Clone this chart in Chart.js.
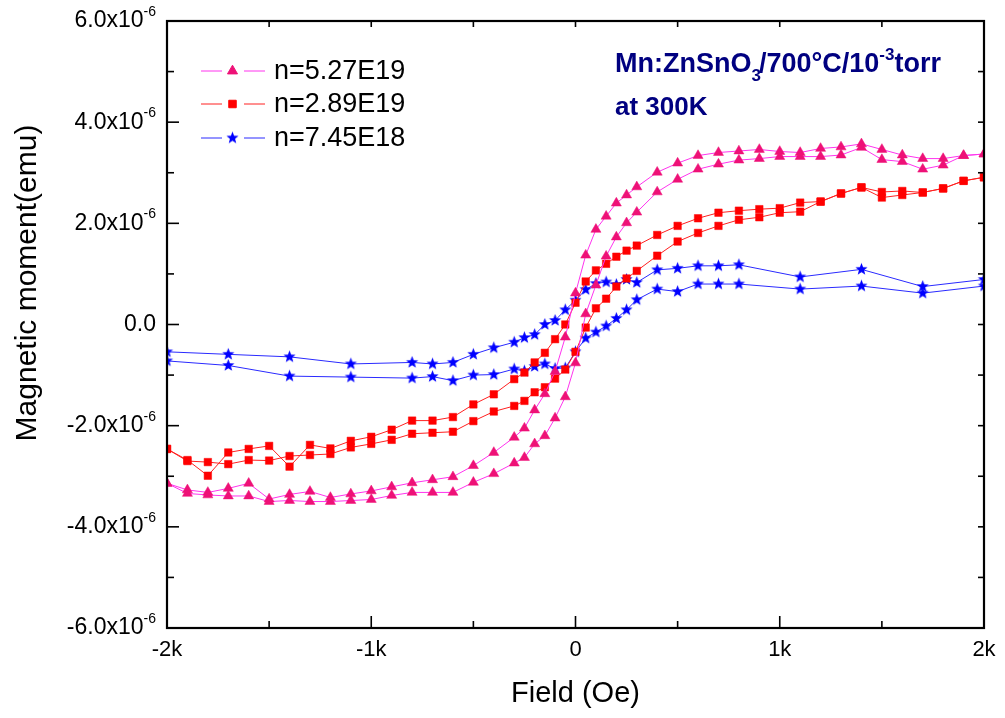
<!DOCTYPE html>
<html><head><meta charset="utf-8">
<script src="https://cdn.jsdelivr.net/npm/chart.js@4.4.1/dist/chart.umd.min.js"></script>
<style>html,body{margin:0;padding:0;background:#fff;} canvas{display:block;}</style>
</head><body>
<canvas id="c" width="1005" height="718"></canvas>
<script>
// ---------- DATA (field in Oe, moment in units of 1e-6 emu) ----------
const fieldDown = [2000,1900,1800,1700,1600,1500,1400,1300,1200,1100,1000,900,800,700,600,500,400,300,250,200,150,100,50,0,-50,-100,-150,-200,-250,-300,-400,-500,-600,-700,-800,-900,-1000,-1100,-1200,-1300,-1400,-1500,-1600,-1700,-1800,-1900,-2000];
const fieldUp = [-2000,-1900,-1800,-1700,-1600,-1500,-1400,-1300,-1200,-1100,-1000,-900,-800,-700,-600,-500,-400,-300,-250,-200,-150,-100,-50,0,50,100,150,200,250,300,400,500,600,700,800,900,1000,1100,1200,1300,1400,1500,1600,1700,1800,1900,2000];
const fieldDownBlue = [2000,1700,1400,1100,800,700,600,500,400,300,250,200,150,100,50,0,-50,-100,-150,-200,-250,-300,-400,-500,-600,-700,-800,-1100,-1400,-1700,-2000];
const fieldUpBlue = [-2000,-1700,-1400,-1100,-800,-700,-600,-500,-400,-300,-250,-200,-150,-100,-50,0,50,100,150,200,250,300,400,500,600,700,800,1100,1400,1700,2000];

const n527Down = [3.37,3.34,3.28,3.28,3.35,3.46,3.57,3.51,3.48,3.40,3.42,3.46,3.43,3.40,3.34,3.19,3.01,2.72,2.56,2.40,2.14,1.88,1.37,0.62,-0.25,-0.93,-1.37,-1.69,-2.05,-2.23,-2.53,-2.79,-3.01,-3.07,-3.13,-3.21,-3.29,-3.35,-3.42,-3.30,-3.36,-3.45,-3.14,-3.24,-3.32,-3.27,-3.14];
const n527Up = [-3.14,-3.34,-3.37,-3.39,-3.39,-3.50,-3.48,-3.50,-3.50,-3.48,-3.46,-3.38,-3.32,-3.32,-3.32,-3.12,-2.95,-2.74,-2.63,-2.36,-2.20,-1.85,-1.43,-0.76,0.21,0.78,1.35,1.73,2.01,2.22,2.62,2.87,3.07,3.17,3.25,3.28,3.32,3.32,3.32,3.35,3.50,3.26,3.22,3.07,3.15,3.34,3.37];

const n289Down = [2.91,2.84,2.69,2.61,2.64,2.62,2.71,2.59,2.43,2.41,2.30,2.28,2.25,2.21,2.10,1.95,1.77,1.56,1.46,1.34,1.20,1.07,0.85,0.43,0.00,-0.29,-0.56,-0.75,-0.95,-1.08,-1.38,-1.58,-1.83,-1.90,-1.90,-2.08,-2.22,-2.30,-2.45,-2.38,-2.81,-2.40,-2.46,-2.53,-2.99,-2.68,-2.46];
const n289Up = [-2.46,-2.70,-2.72,-2.76,-2.68,-2.69,-2.60,-2.58,-2.56,-2.43,-2.36,-2.28,-2.16,-2.14,-2.12,-1.91,-1.72,-1.61,-1.51,-1.34,-1.24,-1.07,-0.89,-0.54,-0.06,0.32,0.51,0.75,0.91,1.06,1.36,1.64,1.81,1.95,2.07,2.12,2.21,2.23,2.43,2.59,2.71,2.51,2.56,2.61,2.69,2.84,2.91];

const n745Down = [0.89,0.75,1.09,0.94,1.18,1.16,1.16,1.11,1.08,0.83,0.89,0.79,0.84,0.81,0.69,0.48,0.29,0.08,0.00,-0.20,-0.26,-0.35,-0.46,-0.59,-0.75,-0.78,-0.75,-0.78,-0.64,-0.59,-0.54];
const n745Up = [-0.72,-0.81,-1.02,-1.04,-1.06,-1.03,-1.11,-1.00,-0.99,-0.88,-0.92,-0.83,-0.78,-0.87,-0.86,-0.54,-0.27,-0.15,-0.03,0.12,0.29,0.49,0.70,0.65,0.80,0.80,0.80,0.70,0.76,0.62,0.76];

const seriesLabels = ['n=5.27E19','n=2.89E19','n=7.45E18'];
const xTickValues = [-2000,-1000,0,1000,2000];
const xTickLabels = ['-2k','-1k','0','1k','2k'];
const yTickValues = [-6,-4,-2,0,2,4,6];
const yTickLabels = ['-6.0x10','-4.0x10','-2.0x10','0.0','2.0x10','4.0x10','6.0x10'];
const yTickExp = '-6';

// ---------- helpers ----------
function loop(xd, yd, xu, yu){
  const a = xd.map((x,i)=>({x:x, y:yd[i]}));
  const b = xu.map((x,i)=>({x:x, y:yu[i]}));
  return a.concat(b);
}
function makeStar(color, R){
  const s = Math.ceil(R*2)+2;
  const c = document.createElement('canvas'); c.width = s; c.height = s;
  const g = c.getContext('2d');
  g.fillStyle = color; g.beginPath();
  for(let i=0;i<10;i++){
    const r = i%2===0 ? R : R*0.42;
    const ang = -Math.PI/2 + i*Math.PI/5;
    const px = s/2 + r*Math.cos(ang), py = s/2 + r*Math.sin(ang);
    if(i===0) g.moveTo(px,py); else g.lineTo(px,py);
  }
  g.closePath(); g.fill();
  return c;
}
const starImg = makeStar('#0000ff', 6.4);

const COL = {
  mag: {line:'#ff33ee', pt:'#ee1177'},
  red: {line:'#ff2020', pt:'#ff0000'},
  blu: {line:'#2a2aff', pt:'#0000ff'}
};
const FONT = '"Liberation Sans", Arial, sans-serif';

const datasets = [
  {label:seriesLabels[0], data:loop(fieldDown,n527Down,fieldUp,n527Up), borderColor:COL.mag.line, borderWidth:1,
   pointStyle:'triangle', pointRadius:5.8, pointBackgroundColor:COL.mag.pt, pointBorderColor:COL.mag.pt, pointBorderWidth:0.5},
  {label:seriesLabels[1], data:loop(fieldDown,n289Down,fieldUp,n289Up), borderColor:COL.red.line, borderWidth:1,
   pointStyle:'rect', pointRadius:5.3, pointBackgroundColor:COL.red.pt, pointBorderColor:COL.red.pt, pointBorderWidth:0.5},
  {label:seriesLabels[2], data:loop(fieldDownBlue,n745Down,fieldUpBlue,n745Up), borderColor:COL.blu.line, borderWidth:1,
   pointStyle:starImg, pointRadius:6}
];

const decor = {
  id:'decor',
  afterDatasetsDraw(chart){
    const {ctx, chartArea:a, scales:{x,y}} = chart;
    ctx.save();
    ctx.strokeStyle = '#000';
    ctx.lineWidth = 1.6;
    const L = (x1,y1,x2,y2)=>{ctx.beginPath();ctx.moveTo(x1,y1);ctx.lineTo(x2,y2);ctx.stroke();};
    [-2000,-1500,-1000,-500,0,500,1000,1500,2000].forEach(v=>{
      const px = x.getPixelForValue(v);
      const major = v % 1000 === 0;
      L(px, a.bottom, px, a.bottom - (major?12:7));
      L(px, a.top, px, a.top + 6);
    });
    [-6,-5,-4,-3,-2,-1,0,1,2,3,4,5,6].forEach(v=>{
      const py = y.getPixelForValue(v);
      const major = v % 2 === 0;
      L(a.left, py, a.left + (major?12:7), py);
      L(a.right, py, a.right - 6, py);
    });
    ctx.lineWidth = 2.2;
    ctx.strokeRect(a.left, a.top, a.right-a.left, a.bottom-a.top);
    ctx.restore();
  },
  afterDraw(chart){
    const {ctx, chartArea:a, scales:{x,y}} = chart;
    ctx.save();
    ctx.fillStyle = '#000';
    // x tick labels
    ctx.font = '22px ' + FONT; ctx.textAlign='center'; ctx.textBaseline='middle';
    xTickValues.forEach((v,i)=>{ ctx.fillText(xTickLabels[i], x.getPixelForValue(v), a.bottom + 22); });
    // y tick labels with superscript
    yTickValues.forEach((v,i)=>{
      const py = y.getPixelForValue(v);
      const right = a.left - 11;
      ctx.textAlign='left'; ctx.textBaseline='middle';
      if(v===0){
        ctx.font = '23px ' + FONT;
        const w = ctx.measureText(yTickLabels[i]).width;
        ctx.fillText(yTickLabels[i], right - w, py);
      } else {
        ctx.font = '14px ' + FONT;
        const ws = ctx.measureText(yTickExp).width;
        ctx.font = '23px ' + FONT;
        const w = ctx.measureText(yTickLabels[i]).width;
        ctx.fillText(yTickLabels[i], right - ws - w, py);
        ctx.font = '14px ' + FONT;
        ctx.fillText(yTickExp, right - ws, py - 9);
      }
    });
    // axis titles
    ctx.font = '29px ' + FONT; ctx.textAlign='center'; ctx.textBaseline='middle';
    ctx.fillText('Field (Oe)', x.getPixelForValue(0), a.bottom + 66);
    ctx.save();
    ctx.font = '30px ' + FONT;
    ctx.translate(28, 283); ctx.rotate(-Math.PI/2);
    ctx.fillText('Magnetic moment(emu)', 0, 0);
    ctx.restore();

    // legend
    const rows = [71, 104, 138];
    const styles = [['triangle',5.8,COL.mag], ['rect',5.3,COL.red], [starImg,6,COL.blu]];
    rows.forEach((ry,i)=>{
      const st = styles[i];
      ctx.strokeStyle = st[2].line; ctx.lineWidth = 1;
      ctx.beginPath(); ctx.moveTo(201, ry); ctx.lineTo(222, ry); ctx.moveTo(244, ry); ctx.lineTo(265, ry); ctx.stroke();
      ctx.fillStyle = st[2].pt; ctx.strokeStyle = st[2].pt;
      Chart.helpers.drawPoint(ctx, {pointStyle: st[0], radius: st[1], borderWidth: 0.5}, 232.5, ry);
      ctx.fillStyle = '#000'; ctx.font = '27px ' + FONT; ctx.textAlign='left'; ctx.textBaseline='middle';
      ctx.fillText(seriesLabels[i], 274, ry + 1);
    });

    // annotation
    ctx.fillStyle = '#000080'; ctx.textAlign='left'; ctx.textBaseline='alphabetic';
    let cx = 615; const base = 72;
    const seg = (t, size, dy)=>{ ctx.font = 'bold ' + size + 'px ' + FONT; ctx.fillText(t, cx, base + dy); cx += ctx.measureText(t).width; };
    seg('Mn:ZnSnO', 27, 0);
    seg('3', 17, 9); cx -= 2;
    seg('/700\u00B0C/10', 27, 0);
    seg('-3', 17, -12);
    seg('torr', 27, 0);
    ctx.font = 'bold 26px ' + FONT;
    ctx.fillText('at 300K', 615, 115);
    ctx.restore();
  }
};

new Chart(document.getElementById('c'), {
  type: 'line',
  data: { datasets: datasets },
  options: {
    responsive: false, animation: false,
    layout: { padding: { left: 167, right: 21, top: 21, bottom: 90 } },
    plugins: { legend: { display: false }, tooltip: { enabled: false } },
    elements: { line: { tension: 0 } },
    scales: {
      x: { type: 'linear', min: -2000, max: 2000, display: false },
      y: { type: 'linear', min: -6, max: 6, display: false }
    }
  },
  plugins: [decor]
});
</script>
</body></html>
